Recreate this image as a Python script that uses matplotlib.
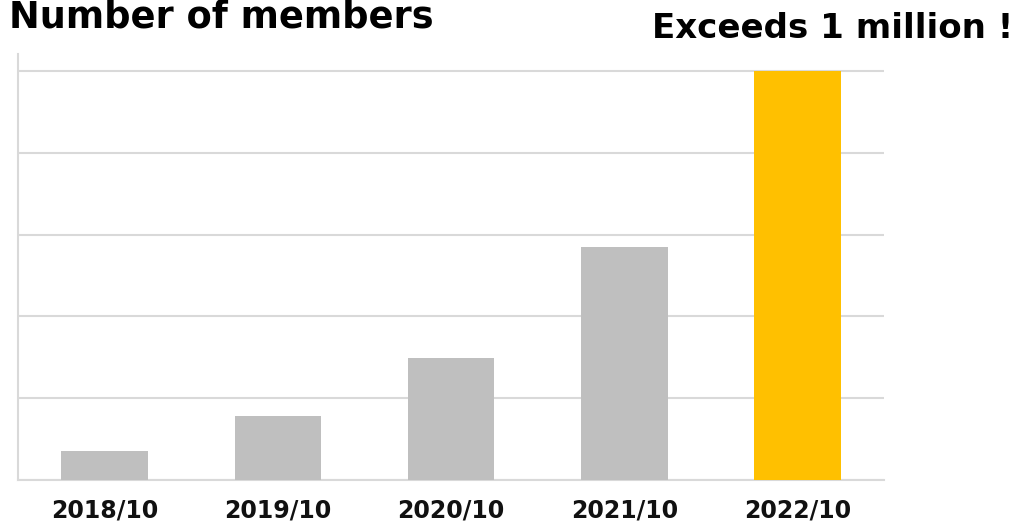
import matplotlib.pyplot as plt
import numpy as np

# Membership counts (October of each year)
periods = ["2018/10", "2019/10", "2020/10", "2021/10", "2022/10"]
members = [72000, 156000, 298000, 570000, 1000000]
bar_colors = ["#bfbfbf", "#bfbfbf", "#bfbfbf", "#bfbfbf", "#ffc000"]
y_ticks = [0, 200000, 400000, 600000, 800000, 1000000]

GRID_COLOR = "#d9d9d9"

fig = plt.figure(figsize=(10.28, 5.21), dpi=100)
ax = fig.add_axes([0.0175, 0.0787, 0.8425, 0.8177])

x = np.arange(len(periods))
ax.bar(x, members, width=0.5, color=bar_colors, zorder=3)

ax.set_xlim(-0.5, len(periods) - 0.5)
ax.set_ylim(0, 1041500)
ax.set_yticks(y_ticks)
ax.yaxis.grid(True, color=GRID_COLOR, linewidth=1.5, zorder=0)
ax.tick_params(axis="y", left=False, labelleft=False)

ax.set_xticks(x)
ax.set_xticklabels(periods, fontsize=17, fontweight="bold", color="#111111")
ax.tick_params(axis="x", length=0, pad=13)

for side in ["top", "right"]:
    ax.spines[side].set_visible(False)
for side in ["left", "bottom"]:
    ax.spines[side].set_color(GRID_COLOR)
    ax.spines[side].set_linewidth(1.5)

# Headings
fig.text(434 / 1028, 1 - 27 / 521, "Number of members", ha="right", va="baseline",
         fontsize=26.5, fontweight="bold", color="black")
fig.text(1013 / 1028, 1 - 37.5 / 521, "Exceeds 1 million !", ha="right", va="baseline",
         fontsize=24.5, fontweight="bold", color="black")

fig.savefig("out.png", dpi=100)
